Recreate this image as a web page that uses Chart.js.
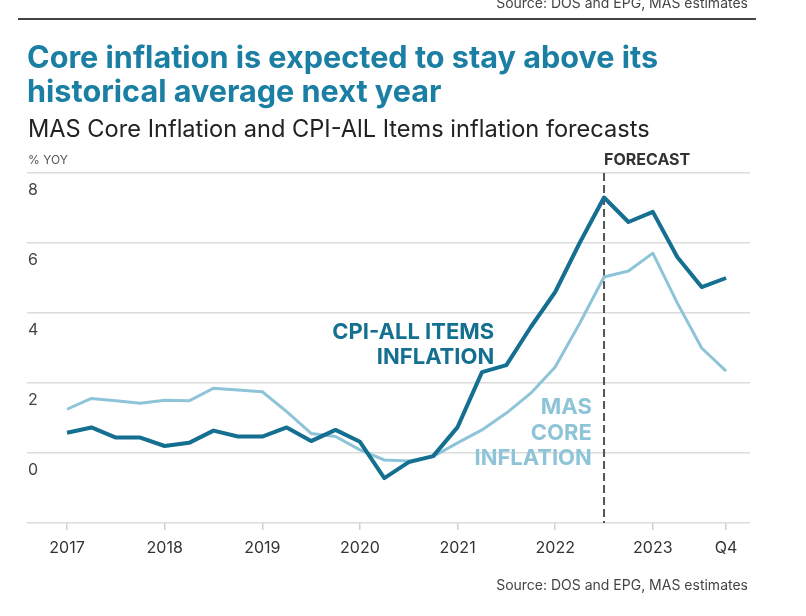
<!DOCTYPE html>
<html lang="en">
<head>
  <meta charset="UTF-8">
  <title>Core inflation is expected to stay above its historical average next year</title>
  <style>
    body {
      margin: 0;
      background: #fff;
      font-family: Inter, "Noto Sans", Arial, sans-serif;
    }
    #wrap {
      position: relative;
      width: 806px;
      height: 616px;
      overflow: hidden;
    }
    canvas { position: absolute; left: 0; top: 0; }
    .src {
      position: absolute;
      right: 58px;
      font-size: 14px;
      color: #444;
      white-space: nowrap;
    }
    .rule {
      position: absolute;
      left: 18px;
      top: 18px;
      width: 738px;
      height: 2px;
      background: #444;
    }
    h1 {
      position: absolute;
      left: 27px;
      top: 40px;
      margin: 0;
      font-size: 30.6px;
      line-height: 34px;
      font-weight: 700;
      color: #1a7fa3;
      white-space: nowrap;
    }
    .sub {
      position: absolute;
      left: 28px;
      top: 114px;
      font-size: 23.6px;
      color: #222;
      white-space: nowrap;
    }
    .unit {
      position: absolute;
      left: 28px;
      top: 152px;
      font-size: 12px;
      color: #555;
    }
  </style>
</head>
<body>
  <div id="wrap">
    <canvas id="chart" width="806" height="616"></canvas>
    <div class="src" style="top:-6px">Source: DOS and EPG, MAS estimates</div>
    <div class="rule"></div>
    <h1>Core inflation is expected to stay above its<br>historical average next year</h1>
    <div class="sub">MAS Core Inflation and CPI-AlL Items inflation forecasts</div>
    <div class="unit">% YOY</div>
    <div class="src" style="top:576px">Source: DOS and EPG, MAS estimates</div>
  </div>

  <script src="https://cdn.jsdelivr.net/npm/chart.js"></script>
  <script>
    // quarterly, 2017Q1 .. 2023Q4 (forecast from 2022Q3)
    const quarters = [
      '2017Q1', '2017Q2', '2017Q3', '2017Q4',
      '2018Q1', '2018Q2', '2018Q3', '2018Q4',
      '2019Q1', '2019Q2', '2019Q3', '2019Q4',
      '2020Q1', '2020Q2', '2020Q3', '2020Q4',
      '2021Q1', '2021Q2', '2021Q3', '2021Q4',
      '2022Q1', '2022Q2', '2022Q3', '2022Q4',
      '2023Q1', '2023Q2', '2023Q3', '2023Q4'
    ];
    const cpiAll = [
      0.58, 0.73, 0.44, 0.44, 0.20, 0.29, 0.64, 0.47,
      0.47, 0.73, 0.34, 0.66, 0.32, -0.72, -0.26, -0.09,
      0.74, 2.31, 2.51, 3.60, 4.60, 6.00, 7.30, 6.60,
      6.89, 5.60, 4.74, 5.00
    ];
    const masCore = [
      1.25, 1.56, 1.49, 1.42, 1.51, 1.49, 1.85, 1.80,
      1.75, 1.18, 0.56, 0.47, 0.09, -0.20, -0.23, -0.10,
      0.29, 0.66, 1.14, 1.71, 2.46, 3.70, 5.03, 5.20,
      5.71, 4.29, 3.00, 2.34
    ];
    const xTickQuarters = ['2017Q1', '2018Q1', '2019Q1', '2020Q1', '2021Q1', '2022Q1', '2023Q1', '2023Q4'];
    const xTickLabels = ['2017', '2018', '2019', '2020', '2021', '2022', '2023', 'Q4'];
    const yTicks = [-2, 0, 2, 4, 6, 8];
    const forecastStart = '2022Q3';

    const CPI_COLOR = '#146f90';
    const CORE_COLOR = '#8ec4d7';
    const FONT = 'Inter, "Noto Sans", Arial, sans-serif';

    const toPoints = arr => arr.map((v, i) => ({ x: i, y: v }));

    // dashed forecast marker + series labels
    const annotations = {
      id: 'annotations',
      beforeDatasetsDraw(chart) {
        const { ctx, chartArea, scales: { x } } = chart;
        const px = x.getPixelForValue(quarters.indexOf(forecastStart));
        ctx.save();
        ctx.strokeStyle = '#555';
        ctx.lineWidth = 2;
        ctx.setLineDash([8, 4]);
        ctx.beginPath();
        ctx.moveTo(px, chartArea.top);
        ctx.lineTo(px, chartArea.bottom);
        ctx.stroke();
        ctx.restore();
      },
      afterDatasetsDraw(chart) {
        const { ctx, chartArea, scales: { x, y } } = chart;
        ctx.save();
        ctx.textBaseline = 'middle';

        ctx.font = 'bold 16px ' + FONT;
        ctx.fillStyle = '#333';
        ctx.textAlign = 'left';
        ctx.fillText('FORECAST', x.getPixelForValue(quarters.indexOf(forecastStart)), chartArea.top - 13);

        ctx.font = 'bold 22px ' + FONT;
        ctx.textAlign = 'right';
        ctx.fillStyle = CPI_COLOR;
        const cx = x.getPixelForValue(17.5);
        ctx.fillText('CPI-ALL ITEMS', cx, y.getPixelForValue(3.46));
        ctx.fillText('INFLATION', cx, y.getPixelForValue(2.74));

        ctx.fillStyle = CORE_COLOR;
        const mx = x.getPixelForValue(21.5);
        ctx.fillText('MAS', mx, y.getPixelForValue(1.29));
        ctx.fillText('CORE', mx, y.getPixelForValue(0.57));
        ctx.fillText('INFLATION', mx, y.getPixelForValue(-0.14));
        ctx.restore();
      }
    };

    new Chart(document.getElementById('chart'), {
      type: 'line',
      data: {
        datasets: [
          {
            label: 'CPI-All Items inflation',
            data: toPoints(cpiAll),
            borderColor: CPI_COLOR,
            borderWidth: 4,
            pointRadius: 0,
            tension: 0,
            borderJoinStyle: 'round'
          },
          {
            label: 'MAS Core inflation',
            data: toPoints(masCore),
            borderColor: CORE_COLOR,
            borderWidth: 3,
            pointRadius: 0,
            tension: 0,
            borderJoinStyle: 'round'
          }
        ]
      },
      options: {
        responsive: false,
        animation: false,
        devicePixelRatio: 1,
        layout: { padding: { left: 27, right: 56, top: 173, bottom: 53 } },
        plugins: {
          legend: { display: false },
          tooltip: { enabled: false }
        },
        scales: {
          x: {
            type: 'linear',
            min: -1.64,
            max: 27.98,
            afterFit: s => { s.height = 40; },
            afterBuildTicks: s => {
              s.ticks = xTickQuarters.map(q => ({ value: quarters.indexOf(q) }));
            },
            grid: {
              drawOnChartArea: false,
              drawTicks: true,
              tickLength: 7,
              color: '#d0d0d0',
              lineWidth: 1.5
            },
            border: { display: false },
            ticks: {
              autoSkip: false,
              maxRotation: 0,
              padding: 9,
              color: '#333',
              font: { family: FONT, size: 16 },
              callback: v => xTickLabels[xTickQuarters.indexOf(quarters[v])]
            }
          },
          y: {
            min: -2,
            max: 8,
            afterFit: s => { s.width = 0; },
            afterBuildTicks: s => { s.ticks = yTicks.map(v => ({ value: v })); },
            grid: {
              drawTicks: false,
              color: '#dcdcdc',
              lineWidth: 1.5
            },
            border: { display: false },
            ticks: {
              mirror: true,
              padding: 1,
              labelOffset: 17,
              color: '#444',
              font: { family: FONT, size: 16 },
              callback: v => (v === -2 ? '' : String(v))
            }
          }
        }
      },
      plugins: [annotations]
    });
  </script>
</body>
</html>
